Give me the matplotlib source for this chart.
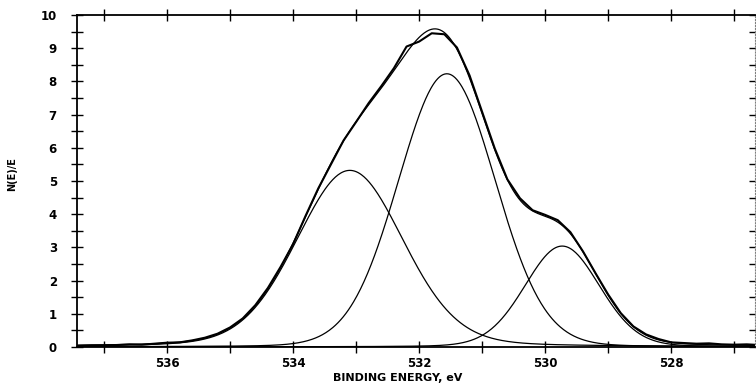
import numpy as np
import matplotlib.pyplot as plt
from matplotlib.ticker import MultipleLocator

# O 1s spectrum
energy = np.arange(537.4, 526.5, -0.2)
counts = [0.04, 0.05, 0.05, 0.06, 0.08, 0.07, 0.10, 0.13, 0.14, 0.20,
          0.28, 0.40, 0.59, 0.86, 1.26, 1.78, 2.41, 3.10, 3.96, 4.78,
          5.50, 6.22, 6.78, 7.35, 7.86, 8.40, 9.05, 9.20, 9.45, 9.42,
          9.02, 8.18, 7.08, 5.98, 5.05, 4.48, 4.12, 3.98, 3.82, 3.46,
          2.88, 2.22, 1.58, 1.02, 0.62, 0.38, 0.24, 0.14, 0.12, 0.10,
          0.11, 0.08, 0.07, 0.08, 0.06]

# fitted components (Gaussian/Lorentzian mix)
peak_centers = [533.10, 531.56, 529.73]
peak_heights = [5.32, 8.23, 3.04]
peak_fwhm = [2.00, 1.82, 1.40]
peak_lorentz = [0.15, 0.05, 0.10]


def pseudo_voigt(x, c, h, w, m):
    u = ((x - c) / w) ** 2
    return h * ((1 - m) * np.exp(-4 * np.log(2) * u) + m / (1 + 4 * u))


plt.rcParams['font.family'] = ['DejaVu Sans']
plt.rcParams['font.weight'] = 'bold'
plt.rcParams['axes.labelweight'] = 'bold'

fig = plt.figure(figsize=(7.56, 3.89), dpi=100)
ax = fig.add_axes([77 / 756, 1 - 347 / 389, 678 / 756, 332 / 389])

xs = np.linspace(537.5, 526.5, 800)
total = np.zeros_like(xs)
for c, h, w, m in zip(peak_centers, peak_heights, peak_fwhm, peak_lorentz):
    comp = pseudo_voigt(xs, c, h, w, m)
    total += comp
    ax.plot(xs, comp, color='black', linewidth=0.9)

ax.plot(xs, total, color='black', linewidth=0.9)
ax.plot(energy, counts, color='black', linewidth=1.5)

ax.set_xlim(537.43, 526.67)
ax.set_ylim(0, 10)

ax.xaxis.set_major_locator(MultipleLocator(2))
ax.xaxis.set_minor_locator(MultipleLocator(1))
ax.yaxis.set_major_locator(MultipleLocator(1))
ax.yaxis.set_minor_locator(MultipleLocator(0.5))
ax.xaxis.set_major_formatter(lambda v, p: f'{v:.0f}')

ax.tick_params(axis='both', which='both', direction='inout', color='black',
               width=1.0, top=True, right=True, labelsize=8.5, length=9)
ax.tick_params(axis='x', which='major', pad=3)
ax.tick_params(axis='y', which='major', pad=10)
ax.tick_params(axis='y', which='both', right=True, length=3, width=0.8)
ax.tick_params(axis='y', which='both', left=True, length=9, width=1.0)

for side in ['left', 'bottom', 'top']:
    ax.spines[side].set_linewidth(1.3)
ax.spines['right'].set_linestyle(':')
ax.spines['right'].set_color('gray')
ax.spines['right'].set_linewidth(0.8)

ax.set_xlabel('BINDING ENERGY, eV', fontsize=8, fontweight='bold')
ax.xaxis.set_label_coords((398 - 77) / 678, -26 / 332)
ax.set_ylabel('N(E)/E', fontsize=7, fontweight='bold')
ax.yaxis.set_label_coords(-60 / 678, 0.52)

plt.savefig('out.png', dpi=100)
plt.close()
